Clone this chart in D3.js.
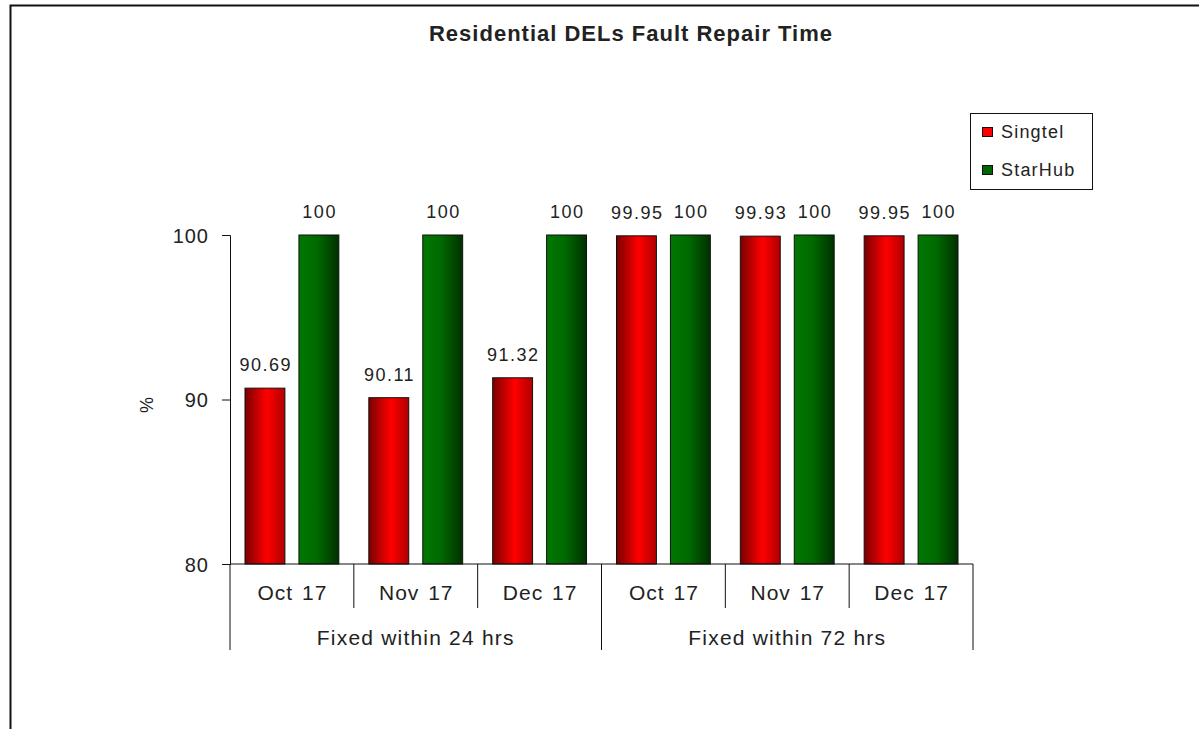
<!DOCTYPE html>
<html>
<head>
<meta charset="utf-8">
<script src="https://cdn.jsdelivr.net/npm/d3@7"></script>
<style>
  body { margin: 0; background: #fff; }
  text { font-family: "Liberation Sans", Arial, sans-serif; fill: #222; }
</style>
</head>
<body>
<svg id="chart"></svg>
<script>
const groups = ["Fixed within 24 hrs", "Fixed within 72 hrs"],
	months = ["Oct 17", "Nov 17", "Dec 17"],
	series = ["Singtel", "StarHub"],
	singtel = [90.69, 90.11, 91.32, 99.95, 99.93, 99.95],
	starhub = [100, 100, 100, 100, 100, 100],
	yTicks = [80, 90, 100];

const width = 1199,
	height = 729,
	svg = d3.select('svg#chart')
		.attr('width', width)
		.attr('height', height);

// categories: one per group/month pair
const cats = [];
groups.forEach((g, gi) => months.forEach((m, mi) => cats.push({ group: g, month: m, i: gi * 3 + mi })));
const rows = cats.map(c => ({ cat: c, Singtel: singtel[c.i], StarHub: starhub[c.i] }));

const plot = { left: 230, right: 973, top: 235, bottom: 564 };

const x = d3.scaleBand()
	.domain(d3.range(cats.length))
	.range([plot.left, plot.right]);

const xs = d3.scaleBand()
	.domain(series)
	.range([0, x.bandwidth()])
	.paddingInner(0.26)
	.paddingOuter(0.278);

const y = d3.scaleLinear()
	.domain([80, 100])
	.range([plot.bottom, plot.top]);

// frame (runs off the right and bottom)
svg.append('rect')
	.attr('x', 10.5).attr('y', 5.5)
	.attr('width', width).attr('height', height)
	.style('fill', 'none')
	.style('stroke', '#111')
	.style('stroke-width', 2);

// gradients
const defs = svg.append('defs');
const redGrad = defs.append('linearGradient').attr('id', 'gradRed');
redGrad.append('stop').attr('offset', '0%').attr('stop-color', '#7a0000');
redGrad.append('stop').attr('offset', '55%').attr('stop-color', '#ff0000');
redGrad.append('stop').attr('offset', '100%').attr('stop-color', '#b00000');
const greenGrad = defs.append('linearGradient').attr('id', 'gradGreen');
greenGrad.append('stop').attr('offset', '0%').attr('stop-color', '#007800');
greenGrad.append('stop').attr('offset', '45%').attr('stop-color', '#006a00');
greenGrad.append('stop').attr('offset', '100%').attr('stop-color', '#003000');
const fills = { Singtel: 'url(#gradRed)', StarHub: 'url(#gradGreen)' };

// title
svg.append('text')
	.attr('x', 631).attr('y', 41)
	.attr('text-anchor', 'middle')
	.style('font-size', '22px')
	.style('font-weight', 'bold')
	.style('letter-spacing', '1px')
	.text('Residential DELs Fault Repair Time');

// bars
const barGroups = svg.selectAll('g.cat')
	.data(rows)
	.enter().append('g')
	.attr('class', 'cat')
	.attr('transform', d => `translate(${x(d.cat.i)},0)`);

barGroups.selectAll('rect')
	.data(d => series.map(s => ({ s: s, v: d[s] })))
	.enter().append('rect')
	.attr('x', d => xs(d.s))
	.attr('y', d => y(d.v))
	.attr('width', xs.bandwidth())
	.attr('height', d => y(80) - y(d.v))
	.style('fill', d => fills[d.s])
	.style('stroke', '#111')
	.style('stroke-width', 1);

barGroups.selectAll('text.val')
	.data(d => series.map(s => ({ s: s, v: d[s] })))
	.enter().append('text')
	.attr('class', 'val')
	.attr('x', d => xs(d.s) + xs.bandwidth() / 2 + 0.75)
	.attr('y', d => y(d.v) - 17)
	.attr('text-anchor', 'middle')
	.style('font-size', '18px')
	.style('letter-spacing', '1.5px')
	.text(d => d.v);

// y axis
const yAxis = svg.append('g')
	.attr('transform', `translate(${plot.left},0)`)
	.call(d3.axisLeft(y).tickValues(yTicks).tickSize(8).tickPadding(13));
yAxis.select('.domain').attr('stroke', '#111');
yAxis.selectAll('.tick line').attr('stroke', '#111');
yAxis.selectAll('text')
	.attr('font-family', null)
	.attr('dy', '0.36em')
	.style('font-size', '20px')
	.style('letter-spacing', '1px')
	.style('fill', '#222');

svg.append('text')
	.attr('transform', 'translate(153,405) rotate(-90)')
	.attr('text-anchor', 'middle')
	.style('font-size', '18px')
	.text('%');

// x axis baseline
svg.append('line')
	.attr('x1', plot.left).attr('x2', plot.right)
	.attr('y1', plot.bottom).attr('y2', plot.bottom)
	.style('stroke', '#111');

// month ticks and labels
const inner = d3.range(1, cats.length).filter(i => i % months.length !== 0);
svg.selectAll('line.mtick')
	.data(inner)
	.enter().append('line')
	.attr('class', 'mtick')
	.attr('x1', d => x(d)).attr('x2', d => x(d))
	.attr('y1', plot.bottom).attr('y2', 608)
	.style('stroke', '#111');

svg.selectAll('text.month')
	.data(cats)
	.enter().append('text')
	.attr('class', 'month')
	.attr('x', d => x(d.i) + x.bandwidth() / 2 + 0.5)
	.attr('y', 600)
	.attr('text-anchor', 'middle')
	.style('font-size', '21px')
	.style('letter-spacing', '1px')
	.style('word-spacing', '2px')
	.text(d => d.month);

// group separators and labels
const seps = d3.range(0, cats.length + 1, months.length);
svg.selectAll('line.gtick')
	.data(seps)
	.enter().append('line')
	.attr('class', 'gtick')
	.attr('x1', d => d < cats.length ? x(d) : plot.right)
	.attr('x2', d => d < cats.length ? x(d) : plot.right)
	.attr('y1', plot.bottom).attr('y2', 650)
	.style('stroke', '#111');

svg.selectAll('text.group')
	.data(groups)
	.enter().append('text')
	.attr('class', 'group')
	.attr('x', (d, i) => (x(i * 3) + (i * 3 + 3 < cats.length ? x(i * 3 + 3) : plot.right)) / 2)
	.attr('y', 645)
	.attr('text-anchor', 'middle')
	.style('font-size', '21px')
	.style('letter-spacing', '1.2px')
	.text(d => d);

// legend
const legend = svg.append('g').attr('transform', 'translate(970,113)');
legend.append('rect')
	.attr('x', 0.5).attr('y', 0.5)
	.attr('width', 122).attr('height', 76)
	.style('fill', '#fff')
	.style('stroke', '#111');
const item = legend.selectAll('g.item')
	.data(series)
	.enter().append('g')
	.attr('class', 'item')
	.attr('transform', (d, i) => `translate(0,${19 + i * 38})`);
item.append('rect')
	.attr('x', 12.5).attr('y', -4.5)
	.attr('width', 10).attr('height', 9)
	.style('fill', d => d === 'Singtel' ? '#ff0000' : '#006400')
	.style('stroke', '#111');
item.append('text')
	.attr('x', 31).attr('y', 6)
	.style('font-size', '18px')
	.style('letter-spacing', '1.2px')
	.text(d => d);
</script>
</body>
</html>
